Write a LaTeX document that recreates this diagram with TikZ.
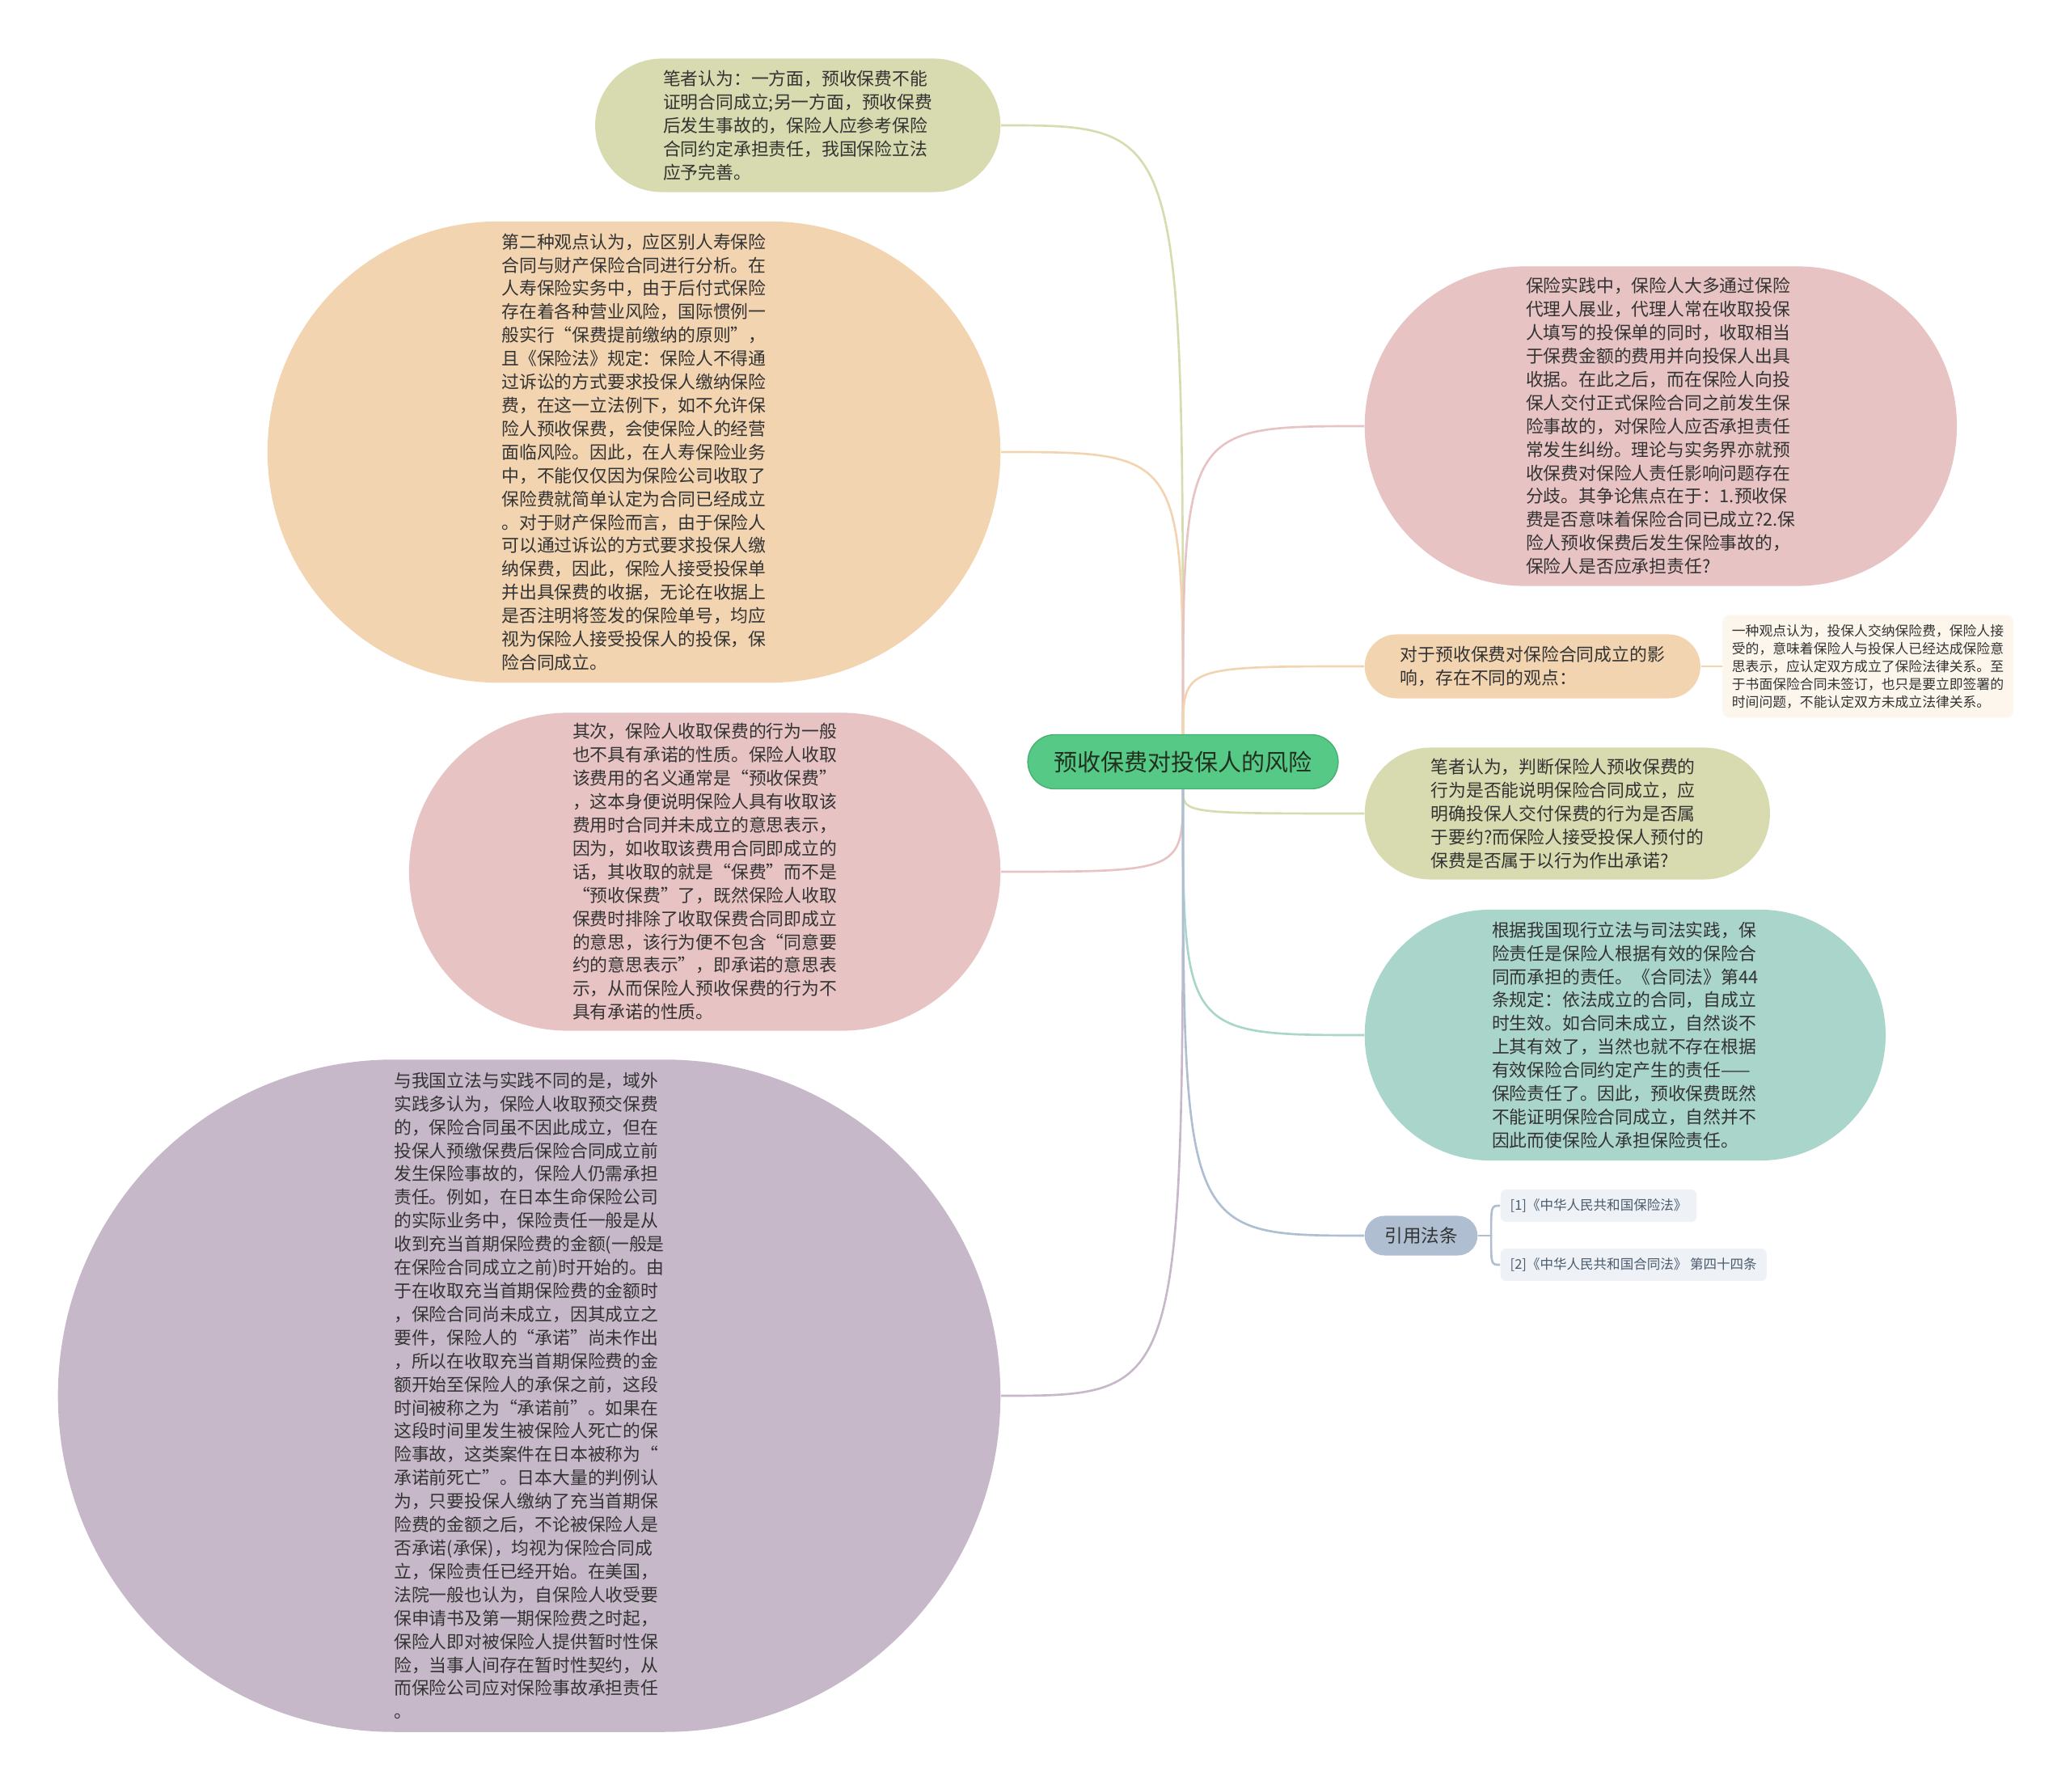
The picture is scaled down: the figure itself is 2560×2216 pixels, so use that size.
\documentclass[tikz,border=0pt]{standalone}
\usepackage{fontspec}
\setmainfont{Noto Sans CJK SC}
\usetikzlibrary{shapes.misc, positioning}
\definecolor{cgreen}{HTML}{55C985}
\definecolor{cgreendk}{HTML}{47B074}
\definecolor{colive}{HTML}{D8DBAF}
\definecolor{cpeach}{HTML}{F2D4B1}
\definecolor{cpink}{HTML}{E7C3C3}
\definecolor{cpurple}{HTML}{C6B8C9}
\definecolor{cteal}{HTML}{A9D5CB}
\definecolor{cslate}{HTML}{AFBFD1}
\definecolor{ccream}{HTML}{FDF6EC}
\definecolor{ccite}{HTML}{EEF2F6}
\definecolor{ctext}{HTML}{333333}
\definecolor{ctitle}{HTML}{21301F}
\definecolor{cciteink}{HTML}{4B5B6E}

\begin{document}
\begin{tikzpicture}[x=0.01cm, y=-0.01cm,
    topic/.style={rounded rectangle, inner sep=2pt, align=left, text=ctext, font=\fontsize{6.2}{8.22}\selectfont},
    link/.style={line width=0.75pt}]
    \useasboundingbox (0,0) rectangle (2560,2216);
    \node (root) [rounded rectangle, fill=cgreen, draw=cgreendk, line width=0.4pt, minimum width=4.07cm, minimum height=0.67cm, text=ctitle, font=\fontsize{8.25}{10}\selectfont] at (1463,942) {预收保费对投保人的风险};
    % left side
    \node (remark) [topic, fill=colive, minimum width=5.15cm, minimum height=1.65cm, anchor=east] at (1238,155) {笔者认为：一方面，预收保费不能\\证明合同成立;另一方面，预收保费\\后发生事故的，保险人应参考保险\\合同约定承担责任，我国保险立法\\应予完善。};
    \node (second) [topic, fill=cpeach, minimum width=9.2cm, minimum height=5.7cm, anchor=east] at (1238,559) {第二种观点认为，应区别人寿保险\\合同与财产保险合同进行分析。在\\人寿保险实务中，由于后付式保险\\存在着各种营业风险，国际惯例一\\般实行“保费提前缴纳的原则”，\\且《保险法》规定：保险人不得通\\过诉讼的方式要求投保人缴纳保险\\费，在这一立法例下，如不允许保\\险人预收保费，会使保险人的经营\\面临风险。因此，在人寿保险业务\\中，不能仅仅因为保险公司收取了\\保险费就简单认定为合同已经成立\\。对于财产保险而言，由于保险人\\可以通过诉讼的方式要求投保人缴\\纳保费，因此，保险人接受投保单\\并出具保费的收据，无论在收据上\\是否注明将签发的保险单号，均应\\视为保险人接受投保人的投保，保\\险合同成立。};
    \node (nopromise) [topic, fill=cpink, minimum width=7.45cm, minimum height=3.93cm, anchor=east] at (1238,1078) {其次，保险人收取保费的行为一般\\也不具有承诺的性质。保险人收取\\该费用的名义通常是“预收保费”\\，这本身便说明保险人具有收取该\\费用时合同并未成立的意思表示，\\因为，如收取该费用合同即成立的\\话，其收取的就是“保费”而不是\\“预收保费”了，既然保险人收取\\保费时排除了收取保费合同即成立\\的意思，该行为便不包含“同意要\\约的意思表示”，即承诺的意思表\\示，从而保险人预收保费的行为不\\具有承诺的性质。};
    \node (abroad) [topic, fill=cpurple, minimum width=11.79cm, minimum height=8.31cm, anchor=east] at (1238,1726) {与我国立法与实践不同的是，域外\\实践多认为，保险人收取预交保费\\的，保险合同虽不因此成立，但在\\投保人预缴保费后保险合同成立前\\发生保险事故的，保险人仍需承担\\责任。例如，在日本生命保险公司\\的实际业务中，保险责任一般是从\\收到充当首期保险费的金额(一般是\\在保险合同成立之前)时开始的。由\\于在收取充当首期保险费的金额时\\，保险合同尚未成立，因其成立之\\要件，保险人的“承诺”尚未作出\\，所以在收取充当首期保险费的金\\额开始至保险人的承保之前，这段\\时间被称之为“承诺前”。如果在\\这段时间里发生被保险人死亡的保\\险事故，这类案件在日本被称为“\\承诺前死亡”。日本大量的判例认\\为，只要投保人缴纳了充当首期保\\险费的金额之后，不论被保险人是\\否承诺(承保)，均视为保险合同成\\立，保险责任已经开始。在美国，\\法院一般也认为，自保险人收受要\\保申请书及第一期保险费之时起，\\保险人即对被保险人提供暂时性保\\险，当事人间存在暂时性契约，从\\而保险公司应对保险事故承担责任\\。};
    % right side
    \node (practice) [topic, fill=cpink, minimum width=7.46cm, minimum height=3.95cm, anchor=west] at (1687,527) {保险实践中，保险人大多通过保险\\代理人展业，代理人常在收取投保\\人填写的投保单的同时，收取相当\\于保费金额的费用并向投保人出具\\收据。在此之后，而在保险人向投\\保人交付正式保险合同之前发生保\\险事故的，对保险人应否承担责任\\常发生纠纷。理论与实务界亦就预\\收保费对保险人责任影响问题存在\\分歧。其争论焦点在于：1.预收保\\费是否意味着保险合同已成立?2.保\\险人预收保费后发生保险事故的，\\保险人是否应承担责任?};
    \node (effect) [topic, fill=cpeach, minimum width=4.29cm, minimum height=0.79cm, anchor=west] at (1687,824) {对于预收保费对保险合同成立的影\\响，存在不同的观点：};
    \node (onesay) [rectangle, rounded corners=2.5pt, fill=ccream, align=left, text=ctext, font=\fontsize{4.78}{6.23}\selectfont, minimum width=3.53cm, minimum height=1.25cm] at (2310,824) {一种观点认为，投保人交纳保险费，保险人接\\受的，意味着保险人与投保人已经达成保险意\\思表示，应认定双方成立了保险法律关系。至\\于书面保险合同未签订，也只是要立即签署的\\时间问题，不能认定双方未成立法律关系。};
    \node (judge) [topic, fill=colive, minimum width=5.15cm, minimum height=1.63cm, anchor=west] at (1687,1006) {笔者认为，判断保险人预收保费的\\行为是否能说明保险合同成立，应\\明确投保人交付保费的行为是否属\\于要约?而保险人接受投保人预付的\\保费是否属于以行为作出承诺?};
    \node (liability) [topic, fill=cteal, minimum width=6.58cm, minimum height=3.1cm, anchor=west] at (1687,1280) {根据我国现行立法与司法实践，保\\险责任是保险人根据有效的保险合\\同而承担的责任。《合同法》第44\\条规定：依法成立的合同，自成立\\时生效。如合同未成立，自然谈不\\上其有效了，当然也就不存在根据\\有效保险合同约定产生的责任——\\保险责任了。因此，预收保费既然\\不能证明保险合同成立，自然并不\\因此而使保险人承担保险责任。};
    \node (cite) [rounded rectangle, fill=cslate, text=ctext, font=\fontsize{6.4}{8}\selectfont, minimum width=1.63cm, minimum height=0.49cm, anchor=west] at (1687,1528) {引用法条};
    \node (law1) [rectangle, rounded corners=2pt, fill=ccite, text=cciteink, font=\fontsize{4.7}{6}\selectfont, inner xsep=0.12cm, minimum height=0.31cm, anchor=west] at (1855,1491) {[1]《中华人民共和国保险法》};
    \node (law2) [rectangle, rounded corners=2pt, fill=ccite, text=cciteink, font=\fontsize{4.7}{6}\selectfont, inner xsep=0.12cm, minimum height=0.31cm, anchor=west] at (1855,1564) {[2]《中华人民共和国合同法》 第四十四条};
    % branches
    \foreach \n/\c in {remark/colive, second/cpeach}
        \draw[link, draw=\c] (root.north) .. controls (root.north |- \n.east) .. (\n.east);
    \foreach \n/\c in {nopromise/cpink, abroad/cpurple}
        \draw[link, draw=\c] (root.south) .. controls (root.south |- \n.east) .. (\n.east);
    \foreach \n/\c in {practice/cpink, effect/cpeach}
        \draw[link, draw=\c] (root.north) .. controls (root.north |- \n.west) .. (\n.west);
    \foreach \n/\c in {judge/colive, liability/cteal, cite/cslate}
        \draw[link, draw=\c] (root.south) .. controls (root.south |- \n.west) .. (\n.west);
    \draw[link, draw=cpeach] (effect.east) -- (onesay.west);
    \draw[link, draw=cslate] (cite.east) -- ++(16,0) coordinate (fork);
    \foreach \n in {law1, law2}
        \draw[link, draw=cslate] (fork) .. controls (fork |- \n.west) .. (\n.west);
\end{tikzpicture}
\end{document}
